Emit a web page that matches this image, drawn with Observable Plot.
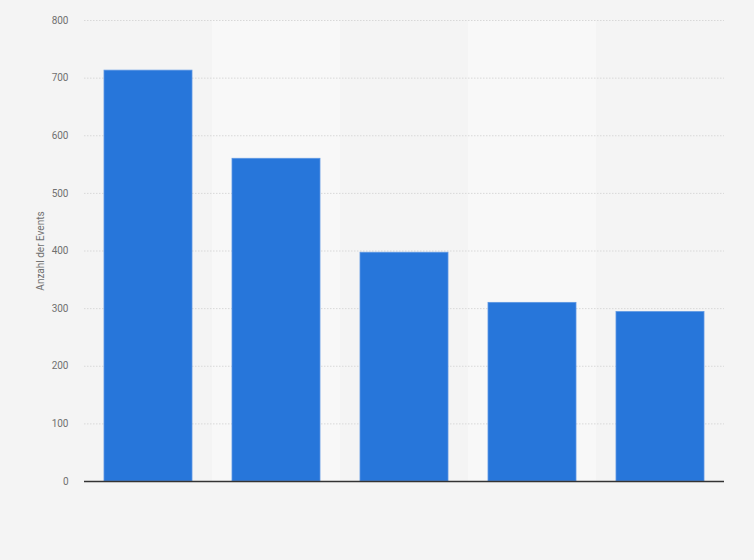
<!DOCTYPE html>
<html>
<head>
<meta charset="utf-8">
<script src="https://cdn.jsdelivr.net/npm/d3@7"></script>
<script src="https://cdn.jsdelivr.net/npm/@observablehq/plot@0.6"></script>
<style>
  html, body { margin: 0; padding: 0; background: #f4f4f4; }
  #chart svg { display: block; }
</style>
</head>
<body>
<div id="chart"></div>
<script>
const categories = ["1", "2", "3", "4", "5"];
const values = [713, 560, 397, 310, 294];
const yTicks = [0, 100, 200, 300, 400, 500, 600, 700, 800];
const yLabel = "Anzahl der Events";

const data = categories.map((c, i) => ({category: c, value: values[i], index: i}));
const bands = data.filter(d => d.index % 2 === 1);

const chart = Plot.plot({
  width: 754,
  height: 560,
  marginLeft: 84,
  marginRight: 30,
  marginTop: 20,
  marginBottom: 79,
  style: {background: "#f4f4f4", fontFamily: "Roboto, 'Liberation Sans', sans-serif", fontSize: "10px"},
  x: {domain: categories, padding: 0, axis: null},
  y: {domain: [0, 800], ticks: yTicks, label: null},
  marks: [
    Plot.barY(bands, {x: "category", y1: 0, y2: 800, fill: "#f8f8f8"}),
    Plot.ruleY(yTicks.filter(t => t > 0), {stroke: "#d8d8d8", strokeDasharray: "1.5,1.5", strokeWidth: 1}),
    Plot.barY(data, {x: "category", y: "value", fill: "#2776da", stroke: "#5c97e3", strokeWidth: 0.8, insetLeft: 20, insetRight: 20}),
    Plot.ruleY([0], {stroke: "#333", strokeWidth: 1.3}),
    Plot.axisY({ticks: yTicks, tickSize: 0, tickPadding: 16, fill: "#707070", fontSize: 10,
      label: yLabel, labelAnchor: "center", labelArrow: "none", labelOffset: 48})
  ]
});
document.getElementById("chart").appendChild(chart);
</script>
</body>
</html>
